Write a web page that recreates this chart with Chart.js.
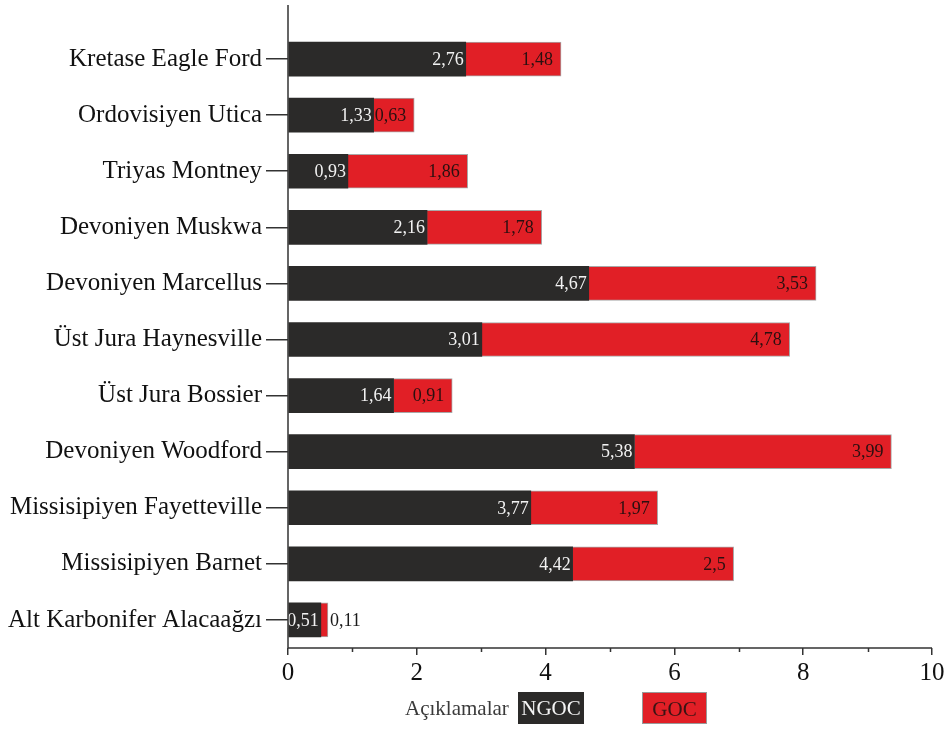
<!DOCTYPE html>
<html>
<head>
<meta charset="utf-8">
<script src="https://cdn.jsdelivr.net/npm/chart.js@4"></script>
<style>
  body { margin: 0; background: #fff; }
  #wrap { position: relative; width: 945px; height: 729px; }
  .leg { position: absolute; font-family: 'Liberation Serif', serif; }
  #legTitle { left: 405px; top: 695px; font-size: 21px; color: #3a3a3a; line-height: 26px; }
  .box { top: 692px; height: 32px; line-height: 32px; text-align: center; font-size: 21px; box-sizing: border-box; }
  #legNgoc { left: 518px; width: 66px; background: #2b2a29; color: #f4f4f4; }
  #legGoc { left: 642px; width: 65px; background: #e11f26; color: #3a1414; border: 1px solid #999; }
</style>
</head>
<body>
<div id="wrap">
  <canvas id="chart" width="945" height="729"></canvas>
  <div class="leg" id="legTitle">Açıklamalar</div>
  <div class="leg box" id="legNgoc">NGOC</div>
  <div class="leg box" id="legGoc">GOC</div>
</div>
<script>
// veriler
var categories = ['Kretase Eagle Ford', 'Ordovisiyen Utica', 'Triyas Montney', 'Devoniyen Muskwa',
  'Devoniyen Marcellus', 'Üst Jura Haynesville', 'Üst Jura Bossier', 'Devoniyen Woodford',
  'Missisipiyen Fayetteville', 'Missisipiyen Barnet', 'Alt Karbonifer Alacaağzı'];
var ngoc = [2.76, 1.33, 0.93, 2.16, 4.67, 3.01, 1.64, 5.38, 3.77, 4.42, 0.51];
var goc = [1.48, 0.63, 1.86, 1.78, 3.53, 4.78, 0.91, 3.99, 1.97, 2.5, 0.11];
var xMin = 0, xMax = 10, xStep = 2;

var serif = 'Liberation Serif';
function fmt(v) { return String(v).replace('.', ','); }

// eksen çizgileri ve ara çentikler
var axisPlugin = {
  id: 'axisLines',
  afterDraw: function(chart) {
    var ctx = chart.ctx, a = chart.chartArea, xs = chart.scales.x;
    ctx.save();
    ctx.strokeStyle = '#333';
    ctx.lineWidth = 1.5;
    ctx.beginPath();
    ctx.moveTo(a.left, 5);
    ctx.lineTo(a.left, a.bottom);
    ctx.moveTo(a.left, a.bottom);
    ctx.lineTo(a.right, a.bottom);
    for (var v = xMin + xStep / 2; v < xMax; v += xStep) {
      var px = Math.round(xs.getPixelForValue(v)) + 0.5;
      ctx.moveTo(px, a.bottom);
      ctx.lineTo(px, a.bottom + 4);
    }
    ctx.stroke();
    ctx.restore();
  }
};

// çubuk üzerindeki değerler
var labelPlugin = {
  id: 'barLabels',
  afterDatasetsDraw: function(chart) {
    var ctx = chart.ctx;
    ctx.save();
    ctx.font = '18px ' + serif;
    ctx.textBaseline = 'middle';
    chart.data.datasets.forEach(function(ds, i) {
      var meta = chart.getDatasetMeta(i);
      meta.data.forEach(function(el, j) {
        var txt = fmt(ds.data[j]);
        var w = ctx.measureText(txt).width;
        if (i === 0) {
          ctx.fillStyle = '#f2f2f2';
          ctx.textAlign = 'right';
          ctx.fillText(txt, el.x - 2, el.y + 1);
        } else if (el.x - el.base < w + 8) {
          ctx.fillStyle = '#1a1a1a';
          ctx.textAlign = 'left';
          ctx.fillText(txt, el.x + 2, el.y + 1);
        } else {
          ctx.fillStyle = '#2a1010';
          ctx.textAlign = 'right';
          ctx.fillText(txt, el.x - 8, el.y + 1);
        }
      });
    });
    ctx.restore();
  }
};

var ctx = document.getElementById('chart').getContext('2d');
var chart = new Chart(ctx, {
  type: 'bar',
  data: {
    labels: categories,
    datasets: [{
      label: 'NGOC',
      data: ngoc,
      backgroundColor: '#2b2a29',
      borderWidth: 0,
      barThickness: 34
    }, {
      label: 'GOC',
      data: goc,
      backgroundColor: '#e11f26',
      borderColor: '#a8a8a8',
      borderWidth: { top: 1, bottom: 1, right: 1, left: 0 },
      borderSkipped: false,
      barThickness: 34
    }]
  },
  options: {
    indexAxis: 'y',
    responsive: false,
    devicePixelRatio: 1,
    animation: false,
    layout: { padding: { top: 31, right: 0, left: 0, bottom: 0 } },
    plugins: {
      legend: { display: false },
      tooltip: { enabled: false }
    },
    scales: {
      x: {
        stacked: true,
        min: xMin,
        max: xMax,
        afterFit: function(s) { s.height = 81; s.paddingRight = 13; },
        border: { display: false },
        grid: { drawOnChartArea: false, tickLength: 7, color: '#333', lineWidth: 1.5 },
        ticks: { stepSize: xStep, color: '#111', padding: 3, font: { family: serif, size: 25 } }
      },
      y: {
        stacked: true,
        afterFit: function(s) { s.width = 288; },
        border: { display: false },
        grid: { drawOnChartArea: false, offset: false, tickLength: 22, color: '#333', lineWidth: 1.5 },
        ticks: { color: '#111', padding: 4, font: { family: serif, size: 25 } }
      }
    }
  },
  plugins: [axisPlugin, labelPlugin]
});
</script>
</body>
</html>
